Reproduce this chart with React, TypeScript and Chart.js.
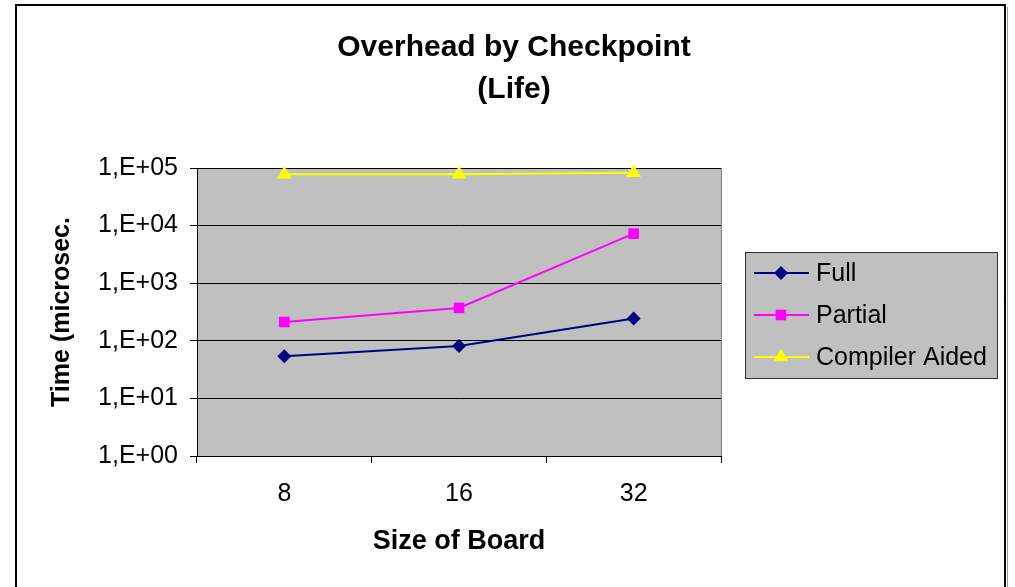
import React, { useEffect, useRef } from 'react';
import { Chart, registerables } from 'chart.js';

Chart.register(...registerables);

const categories = ['8', '16', '32'];
const seriesNames = ['Full', 'Partial', 'Compiler Aided'];
const fullValues = [54, 81, 243];
const partialValues = [212, 372, 7240];
const compilerValues = [78000, 78000, 83000];
const yTickValues = [1, 10, 100, 1000, 10000, 100000];
const yTickLabels = ['1,E+00', '1,E+01', '1,E+02', '1,E+03', '1,E+04', '1,E+05'];
const titleLines = ['Overhead by Checkpoint', '(Life)'];
const xTitle = 'Size of Board';
const yTitle = 'Time (microsec.';

const FONT = '"Liberation Sans", Arial, sans-serif';

function drawMarker(ctx: CanvasRenderingContext2D, style: string, r: number, x: number, y: number, color: string) {
  ctx.fillStyle = color;
  ctx.beginPath();
  if (style === 'rectRot') {
    ctx.moveTo(x, y - r);
    ctx.lineTo(x + r, y);
    ctx.lineTo(x, y + r);
    ctx.lineTo(x - r, y);
  } else if (style === 'rect') {
    const s = r / Math.SQRT2;
    ctx.rect(x - s, y - s, 2 * s, 2 * s);
  } else {
    ctx.moveTo(x, y - r);
    ctx.lineTo(x + r * 0.866, y + r / 2);
    ctx.lineTo(x - r * 0.866, y + r / 2);
  }
  ctx.closePath();
  ctx.fill();
}

const framePlugin = {
  id: 'frame',
  beforeDraw(chart: any) {
    const { ctx, chartArea } = chart;
    ctx.save();
    ctx.fillStyle = '#ffffff';
    ctx.fillRect(0, 0, chart.width, chart.height);
    ctx.fillStyle = '#C0C0C0';
    ctx.fillRect(chartArea.left, chartArea.top, chartArea.right - chartArea.left, chartArea.bottom - chartArea.top);
    ctx.restore();
  },
  afterDraw(chart: any) {
    const { ctx, chartArea } = chart;
    ctx.save();
    // plot right border
    ctx.strokeStyle = '#808080';
    ctx.lineWidth = 1;
    ctx.beginPath();
    ctx.moveTo(Math.round(chartArea.right) + 0.5, chartArea.top);
    ctx.lineTo(Math.round(chartArea.right) + 0.5, chartArea.bottom);
    ctx.stroke();
    // outer frame
    ctx.strokeStyle = '#000000';
    ctx.lineWidth = 2;
    ctx.strokeRect(16, 5, 989, 700);
    ctx.strokeStyle = '#9a9a9a';
    ctx.lineWidth = 1;
    ctx.beginPath();
    ctx.moveTo(1007.5, 7);
    ctx.lineTo(1007.5, 700);
    ctx.stroke();
    // title
    ctx.fillStyle = '#000000';
    ctx.font = `bold 30px ${FONT}`;
    ctx.textAlign = 'center';
    ctx.textBaseline = 'middle';
    titleLines.forEach((t, i) => ctx.fillText(t, 514, 48 + i * 42));
    // legend
    const lx = 745.5, ly = 252.5, lw = 252, lh = 126;
    ctx.fillStyle = '#C0C0C0';
    ctx.fillRect(lx, ly, lw, lh);
    ctx.strokeStyle = '#333333';
    ctx.lineWidth = 1;
    ctx.strokeRect(lx, ly, lw, lh);
    chart.data.datasets.forEach((ds: any, i: number) => {
      const y = 273 + i * 42;
      ctx.strokeStyle = ds.borderColor;
      ctx.lineWidth = 2;
      ctx.beginPath();
      ctx.moveTo(754, y);
      ctx.lineTo(809, y);
      ctx.stroke();
      drawMarker(ctx, ds.pointStyle, ds.pointRadius, 781, y, ds.backgroundColor);
      ctx.fillStyle = '#000000';
      ctx.font = `25px ${FONT}`;
      ctx.textBaseline = 'middle';
      ctx.textAlign = 'left';
      ctx.fillText(ds.label, 816, y + 1);
    });
    ctx.restore();
  },
};

export default function App() {
  const ref = useRef<HTMLCanvasElement | null>(null);
  useEffect(() => {
    if (!ref.current) return;
    const chart = new Chart(ref.current, {
      type: 'line',
      data: {
        labels: categories,
        datasets: [
          {
            label: seriesNames[0],
            data: fullValues,
            borderColor: '#000080',
            backgroundColor: '#000080',
            borderWidth: 2,
            pointStyle: 'rectRot',
            pointRadius: 7,
            pointBorderWidth: 0,
            tension: 0,
          },
          {
            label: seriesNames[1],
            data: partialValues,
            borderColor: '#FF00FF',
            backgroundColor: '#FF00FF',
            borderWidth: 2,
            pointStyle: 'rect',
            pointRadius: 7.5,
            pointBorderWidth: 0,
            tension: 0,
          },
          {
            label: seriesNames[2],
            data: compilerValues,
            borderColor: '#FFFF00',
            backgroundColor: '#FFFF00',
            borderWidth: 2,
            pointStyle: 'triangle',
            pointRadius: 8.5,
            pointBorderWidth: 0,
            tension: 0,
          },
        ],
      },
      options: {
        animation: false,
        responsive: false,
        clip: false,
        layout: { padding: { left: 40, right: 294, top: 168, bottom: 21 } },
        plugins: {
          legend: { display: false },
          tooltip: { enabled: false },
          title: { display: false },
        },
        scales: {
          x: {
            type: 'category',
            offset: true,
            afterFit: (s: any) => { s.height = 110; },
            grid: {
              display: true,
              offset: true,
              drawOnChartArea: false,
              drawTicks: true,
              tickLength: 7,
              color: '#000000',
            },
            border: { display: true, color: '#000000', width: 1 },
            ticks: {
              color: '#000000',
              font: { family: FONT, size: 25 },
              padding: 16,
              maxRotation: 0,
            },
            title: {
              display: true,
              text: xTitle,
              color: '#000000',
              font: { family: FONT, size: 27, weight: 'bold' },
              padding: { top: 0, bottom: 8 },
            },
          },
          y: {
            type: 'logarithmic',
            min: yTickValues[0],
            max: yTickValues[yTickValues.length - 1],
            afterFit: (s: any) => { s.width = 157; },
            afterBuildTicks: (s: any) => { s.ticks = yTickValues.map((v) => ({ value: v })); },
            grid: {
              display: true,
              drawTicks: true,
              tickLength: 7,
              color: '#000000',
            },
            border: { display: true, color: '#000000', width: 1 },
            ticks: {
              color: '#000000',
              font: { family: FONT, size: 25 },
              padding: 12,
              callback: (v: any) => {
                const i = yTickValues.indexOf(Number(v));
                return i >= 0 ? yTickLabels[i] : '';
              },
            },
            title: {
              display: true,
              text: yTitle,
              color: '#000000',
              font: { family: FONT, size: 25, weight: 'bold' },
              padding: { top: 7, bottom: 0 },
            },
          },
        },
      },
      plugins: [framePlugin],
    } as any);
    return () => chart.destroy();
  }, []);
  return (
    <div style={{ position: 'fixed', left: 0, top: 0, width: 1015, height: 587, background: '#fff' }}>
      <canvas ref={ref} width={1015} height={587} style={{ display: 'block', width: 1015, height: 587 }} />
    </div>
  );
}
